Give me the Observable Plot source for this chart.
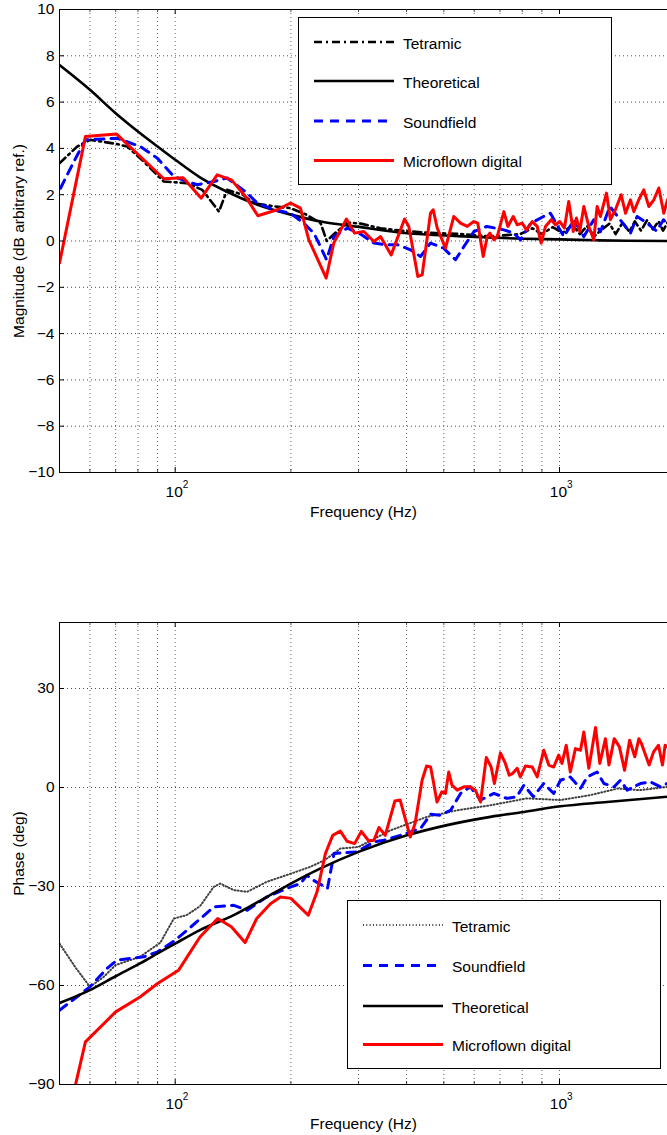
<!DOCTYPE html>
<html>
<head>
<meta charset="utf-8">
<script src="https://cdn.jsdelivr.net/npm/d3@7"></script>
<script src="https://cdn.jsdelivr.net/npm/@observablehq/plot@0.6"></script>
<style>
  body { margin: 0; background: #fff; overflow: hidden; }
  #chart { position: relative; width: 667px; height: 1135px; font-family: "Liberation Sans", Arial, Helvetica, sans-serif; }
  #chart svg { position: absolute; left: 0; }
  #chart svg.legend { font-size: 15.5px; }
</style>
</head>
<body>
<div id="chart"></div>
<script>
// ---- Frequency axis ----
const xDomain = [50, 1910];
const xMajorTicks = [100, 1000];
const xTickBase = "10";
const xTickExponents = ["2", "3"];
const xMinorTicks = [60, 70, 80, 90, 200, 300, 400, 500, 600, 700, 800, 900];
const xGrid = [60, 70, 80, 90, 100, 200, 300, 400, 500, 600, 700, 800, 900, 1000];
const xLabel = "Frequency (Hz)";

// ---- Magnitude panel: [frequency Hz, dB] ----
const magTicks = [-10, -8, -6, -4, -2, 0, 2, 4, 6, 8, 10];
const magLabel = "Magnitude (dB arbitrary ref.)";

const magTheoretical = [[50,7.6],[60,6.53],[70,5.52],[80,4.73],[90,4.08],[100,3.51],[116,2.75],[136,2.14],[163,1.58],[199,1.15],[243,0.82],[297,0.62],[378,0.38],[564,0.2],[808,0.1],[1000,0.07],[1250,0.03],[1500,0.01],[1910,0]];

const magTetramic = [[50,3.36],[55.6,4.08],[60,4.37],[70,4.2],[75,4.08],[82,3.5],[93.4,2.57],[107,2.5],[117.6,2.21],[130,1.27],[136.5,2.21],[150,2.0],[160,1.64],[180,1.5],[199.5,1.42],[220,1.13],[239,0.77],[248,0.0],[259,0.3],[281,0.8],[304,0.75],[342,0.55],[386,0.45],[462,0.35],[553,0.3],[661,0.2],[791,0.3],[850,0.55],[900,0.3],[960,0.6],[1020,0.35],[1080,0.7],[1130,0.3],[1180,0.65],[1230,0.2],[1290,0.5],[1350,0.75],[1400,0.3],[1460,0.8],[1520,0.4],[1570,0.85],[1630,0.45],[1690,0.9],[1750,0.5],[1810,0.85],[1860,0.45],[1910,0.8]];

const magSoundfield = [[50.3,2.28],[54.5,3.43],[58.4,4.37],[70.6,4.44],[81.2,4.08],[89.8,3.58],[99.2,2.79],[107.4,2.57],[114.1,2.43],[126,2.57],[136.5,2.72],[153.9,2.07],[163.5,1.64],[180.5,1.35],[199.5,1.2],[216,0.77],[229.5,0.34],[238.8,-0.24],[247.6,-0.81],[258.8,0.19],[280.7,0.56],[303.6,0.3],[328.8,-0.09],[351.9,-0.16],[378.5,-0.16],[409.6,-0.38],[434.8,-0.67],[461.7,-0.09],[499.4,-0.31],[536.3,-0.81],[564,-0.24],[598.8,0.41],[647.6,0.63],[716.6,0.48],[760.4,0.34],[791.5,0.05],[842,0.77],[909,1.06],[947,1.2],[1026,0.19],[1090,0.9],[1157,0.19],[1228,0.92],[1278,0.4],[1353,1.49],[1441,0.9],[1530,0.34],[1592,1.06],[1690,0.77],[1790,0.43],[1865,0.92],[1910,0.7]];

const magMicroflown = [[50,-0.95],[58.4,4.51],[70.4,4.62],[93.4,2.69],[104.9,2.73],[116.9,1.85],[128.6,2.86],[140.1,2.64],[152.4,1.92],[164.1,1.09],[184.3,1.35],[199.5,1.64],[211.8,1.42],[222.7,0.05],[247.1,-1.6],[258.6,-0.09],[279,0.95],[292.8,0.34],[309.6,0.41],[328.8,-0.02],[342.1,0.19],[364.8,-0.6],[395.2,0.95],[405.4,0.63],[427.9,-1.53],[439.3,-1.46],[461.7,1.2],[469.2,1.35],[480.6,0.56],[505.1,-0.31],[530.9,1.06],[552.6,0.77],[575.4,0.63],[598.4,0.84],[613,0.77],[633.2,-0.67],[648.6,0.19],[658.9,0.34],[674.9,0.05],[688.7,0.19],[716.6,1.27],[733.9,0.63],[757.9,1.06],[776.3,0.7],[799.8,0.77],[820.6,0.48],[849.2,0.84],[874.9,0.63],[896.1,-0.09],[919.5,0.63],[951.4,0.92],[976.4,0.7],[1002,0.84],[1030,0.56],[1057,1.71],[1086,0.41],[1107,0.99],[1129,0.41],[1157,1.49],[1192,0.63],[1228,0.05],[1253,1.49],[1278,1.06],[1325,2.07],[1357,0.92],[1398,1.35],[1447,2.0],[1485,1.2],[1530,1.78],[1561,1.27],[1608,1.78],[1657,2.21],[1708,1.49],[1760,1.78],[1813,2.29],[1868,1.2],[1910,1.78]];

// ---- Phase panel: [frequency Hz, degrees] ----
const phaseTicks = [-90, -60, -30, 0, 30];
const phaseDomain = [-90, 50];
const phaseLabel = "Phase (deg)";

const phaseTheoretical = [[50,-65.3],[60,-61.4],[70,-57.2],[81,-53.3],[90,-50.3],[100,-47.3],[116,-43.2],[142,-38.7],[173,-33.2],[200,-29.1],[239,-24.5],[300,-19.5],[401,-14.5],[510,-11.4],[661,-8.9],[808,-7.4],[1006,-5.7],[1330,-4.4],[1910,-2.8]];

const phaseTetramic = [[50,-47.3],[55,-54.5],[60,-60.4],[65,-57.5],[70,-53.8],[81,-51.3],[91.5,-47],[99.2,-39.7],[107,-38.7],[116,-36],[126,-30.1],[131,-29.1],[142,-31.1],[154,-31.6],[173,-28.6],[200,-26.1],[224,-24.1],[245,-22],[269,-18.5],[300,-18],[363,-13],[452,-8.9],[542,-6.9],[661,-5.4],[823,-3.3],[1006,-3.8],[1205,-2.3],[1418,-0.3],[1620,-0.8],[1910,0.2]];

const phaseSoundfield = [[50,-67.5],[60,-60.4],[66.5,-54.8],[70.6,-52.3],[83,-51.3],[90,-49.8],[100,-46.3],[110,-42.2],[126,-36.2],[142,-35.7],[154,-37.2],[173,-33.2],[200,-30.1],[212,-29.1],[220,-26.6],[229,-28.1],[249,-30.6],[259,-20],[297,-19.5],[329,-16.5],[349,-16],[385,-14.5],[435,-12.4],[462,-8.1],[490,-8.4],[521,-6.9],[553,-1.8],[586,0.2],[623,-3.8],[675,-1.8],[730,-3.3],[774,-2.8],[808,0.7],[855,-2.8],[910,1.2],[966,-1.8],[1006,2.2],[1067,3.2],[1134,-0.3],[1181,3.2],[1253,4.7],[1305,1.2],[1388,0.2],[1441,2.2],[1500,-0.8],[1624,1.2],[1724,1.7],[1831,0.2],[1905,1.2]];

const phaseMicroflown = [[55,-90.2],[58.4,-77.1],[70,-68],[81,-63.5],[90,-59.4],[102,-55.4],[116,-45.3],[129,-39.7],[140,-42.2],[152,-47],[163,-39.7],[177,-35.2],[188,-33.2],[200,-33.6],[222,-38.7],[234,-31.6],[246,-20],[257,-14.5],[269,-13.2],[280,-16.3],[293,-17],[305,-13.3],[319,-16.2],[329,-16],[339,-12.1],[352,-14.5],[373,-4.1],[385,-3.8],[409,-15],[421,-10.9],[439,2.2],[451,6.5],[462,6.2],[469,2.2],[480,-4.4],[494,-1.3],[505,-1.8],[515,4.7],[525,0.7],[542,-0.8],[564,0.2],[586,0.2],[604,-0.8],[623,-4.4],[645,9.1],[664,6.2],[677,1.2],[702,10.5],[723,7.3],[740,3.7],[754,4.2],[776,5.8],[791,3.2],[815,6.5],[849,6.2],[875,3.2],[910,11.3],[938,6.8],[966,6.2],[995,9.8],[1015,7.3],[1041,12.8],[1067,4.7],[1100,11.8],[1134,11.3],[1157,16.8],[1192,5.8],[1241,18.2],[1273,7.3],[1317,14.8],[1345,6.8],[1388,14.8],[1432,12.3],[1477,5.2],[1522,14.3],[1570,9.3],[1609,14.8],[1634,13.3],[1711,6.8],[1757,10.8],[1810,12.8],[1853,6.8],[1883,12.8],[1910,12.3]];

// ---- Series styles ----
const styles = {
  "Tetramic":           {stroke: "#000", strokeWidth: 2.6, strokeDasharray: "8,4,2,4"},
  "Tetramic (phase)":   {stroke: "#000", strokeWidth: 2, strokeOpacity: 0.75, strokeDasharray: "1,2.3"},
  "Theoretical":        {stroke: "#000", strokeWidth: 2.6, curve: "monotone-x"},
  "Soundfield":         {stroke: "#0000ff", strokeWidth: 3, strokeDasharray: "9,7"},
  "Microflown digital": {stroke: "#ff0000", strokeWidth: 3}
};

const FONT = '"Liberation Sans", Arial, Helvetica, sans-serif';
const WIDTH = 667;
const MARGIN_LEFT = 59;

function panel({top, height, marginTop, marginBottom, yDomain, yTicks, yLabel, series}) {
  const innerH = height - marginTop - marginBottom;
  const innerW = WIDTH - MARGIN_LEFT;
  const lines = series.map(([data, style]) =>
    Plot.line(data, {x: d => d[0], y: d => d[1], clip: true, strokeLinejoin: "round", ...style}));
  const svg = Plot.plot({
    width: WIDTH,
    height,
    marginLeft: MARGIN_LEFT,
    marginRight: 0,
    marginTop,
    marginBottom,
    style: {fontFamily: FONT, fontSize: "15.5px", color: "#000", background: "#fff", overflow: "visible"},
    x: {type: "log", domain: xDomain, axis: null},
    y: {domain: yDomain, axis: null},
    marks: [
      // dotted grid
      Plot.gridX(xGrid, {stroke: "#000", strokeOpacity: 0.6, strokeDasharray: "1,3"}),
      Plot.gridY(yTicks, {stroke: "#000", strokeOpacity: 0.7, strokeDasharray: "1,3"}),
      ...lines,
      // box: left, top and bottom edges
      Plot.ruleX([xDomain[0]], {stroke: "#000", strokeWidth: 1}),
      Plot.ruleY(yDomain, {stroke: "#000", strokeWidth: 1}),
      // inward ticks on bottom and top edges
      Plot.tickX(xMajorTicks, {stroke: "#000", insetTop: innerH - 5}),
      Plot.tickX(xMajorTicks, {stroke: "#000", insetBottom: innerH - 5}),
      Plot.tickX(xMinorTicks, {stroke: "#000", strokeOpacity: 0.7, insetTop: innerH - 3}),
      Plot.tickX(xMinorTicks, {stroke: "#000", strokeOpacity: 0.7, insetBottom: innerH - 3}),
      // inward ticks on the left edge
      Plot.tickY(yTicks, {stroke: "#000", insetRight: innerW - 5}),
      Plot.axisY(yTicks, {tickSize: 0, tickPadding: 5, label: null, fontSize: "15.5px"}),
      // decade tick labels: 10 with a raised exponent
      Plot.text(xMajorTicks, {x: d => d, text: () => xTickBase, frameAnchor: "bottom", lineAnchor: "bottom", textAnchor: "middle", dy: 24.5, dx: -1, fontSize: 15.5}),
      Plot.text(xMajorTicks, {x: d => d, text: (d, i) => xTickExponents[i], frameAnchor: "bottom", lineAnchor: "bottom", textAnchor: "start", dy: 15, dx: 7.5, fontSize: 10}),
      // axis titles
      Plot.text([xLabel], {text: d => d, frameAnchor: "bottom", lineAnchor: "top", textAnchor: "middle", dy: 33, fontSize: 15.5}),
      Plot.text([yLabel], {text: d => d, frameAnchor: "left", lineAnchor: "top", textAnchor: "middle", rotate: -90, dx: -47, fontSize: 15.5})
    ]
  });
  svg.style.top = top + "px";
  return svg;
}

function legend({left, top, width, height, rows, entries}) {
  const svg = d3.create("svg")
    .attr("class", "legend")
    .attr("width", width + 1)
    .attr("height", height + 1)
    .style("left", left + "px")
    .style("top", top + "px");
  svg.append("rect")
    .attr("x", 0.5).attr("y", 0.5)
    .attr("width", width).attr("height", height)
    .attr("fill", "#fff").attr("stroke", "#000").attr("stroke-width", 1);
  entries.forEach(([name, style], i) => {
    const y = rows[i];
    svg.append("line")
      .attr("x1", 16).attr("x2", 96).attr("y1", y).attr("y2", y)
      .attr("stroke", style.stroke)
      .attr("stroke-width", style.strokeWidth)
      .attr("stroke-opacity", style.strokeOpacity ?? 1)
      .attr("stroke-dasharray", style.strokeDasharray || null);
    svg.append("text")
      .attr("x", 105).attr("y", y + 1.5).attr("dy", "0.35em")
      .attr("fill", "#000")
      .text(name);
  });
  return svg.node();
}

const chart = document.getElementById("chart");

chart.appendChild(panel({
  top: 0, height: 540, marginTop: 9, marginBottom: 68,
  yDomain: [-10, 10], yTicks: magTicks, yLabel: magLabel,
  series: [
    [magTetramic, styles["Tetramic"]],
    [magTheoretical, styles["Theoretical"]],
    [magSoundfield, styles["Soundfield"]],
    [magMicroflown, styles["Microflown digital"]]
  ]
}));

chart.appendChild(panel({
  top: 560, height: 575, marginTop: 62, marginBottom: 51,
  yDomain: phaseDomain, yTicks: phaseTicks, yLabel: phaseLabel,
  series: [
    [phaseTetramic, styles["Tetramic (phase)"]],
    [phaseSoundfield, styles["Soundfield"]],
    [phaseTheoretical, styles["Theoretical"]],
    [phaseMicroflown, styles["Microflown digital"]]
  ]
}));

chart.appendChild(legend({
  left: 298, top: 17, width: 313, height: 167, rows: [25, 64, 104, 143.5],
  entries: [
    ["Tetramic", styles["Tetramic"]],
    ["Theoretical", styles["Theoretical"]],
    ["Soundfield", styles["Soundfield"]],
    ["Microflown digital", styles["Microflown digital"]]
  ]
}));

chart.appendChild(legend({
  left: 347, top: 900, width: 313, height: 168, rows: [25, 65.5, 106, 144.5],
  entries: [
    ["Tetramic", styles["Tetramic (phase)"]],
    ["Soundfield", styles["Soundfield"]],
    ["Theoretical", styles["Theoretical"]],
    ["Microflown digital", styles["Microflown digital"]]
  ]
}));
</script>
</body>
</html>
